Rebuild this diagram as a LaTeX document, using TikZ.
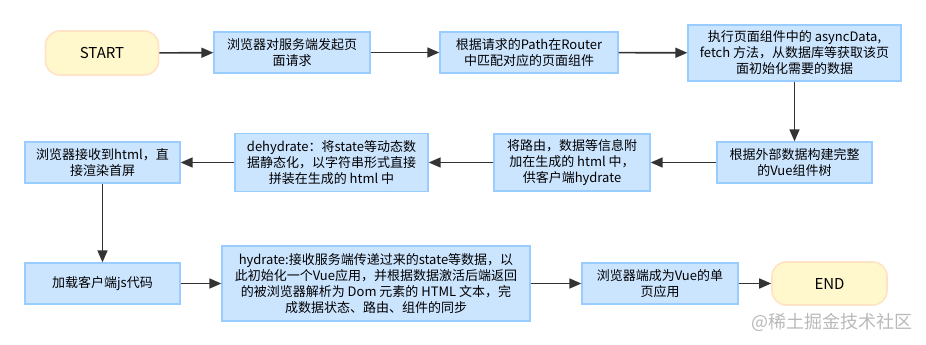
\documentclass[tikz,border=0pt]{standalone}
\usepackage{fontspec}
\setmainfont{Noto Sans CJK SC}
\usetikzlibrary{arrows.meta}

\definecolor{boxfill}{HTML}{CCE5FF}
\definecolor{boxline}{HTML}{99CCFF}
\definecolor{termfill}{HTML}{FFF8CC}
\definecolor{termline}{HTML}{FFE3C6}
\definecolor{arrowgray}{HTML}{333333}

\tikzset{
  proc/.style={draw=boxline, fill=boxfill, line width=1.3pt, align=center, inner sep=2pt,
    font=\fontsize{13}{16}\selectfont},
  term/.style={draw=termline, fill=termfill, line width=1.6pt, rounded corners=14pt,
    font=\fontsize{15}{18}\selectfont},
  flow/.style={draw=arrowgray, line width=1.6pt, -{Triangle[length=12pt,width=10pt]}},
}

\begin{document}
\begin{tikzpicture}[x=1pt,y=-1pt]
\useasboundingbox (0,0) rectangle (926,345);
% first row
\node[term, minimum width=113pt, minimum height=44pt] (start) at (102,53) {START};
\node[proc, minimum width=156pt, minimum height=41pt] (req) at (292,52.5) {浏览器对服务端发起页\\面请求};
\node[proc, minimum width=178pt, minimum height=41pt] (route) at (529,52.5) {根据请求的Path在Router\\中匹配对应的页面组件};
\node[proc, minimum width=213pt, minimum height=56pt] (fetch) at (794.5,53) {执行页面组件中的 asyncData,\\fetch 方法，从数据库等获取该页\\面初始化需要的数据};
% second row
\node[proc, minimum width=155pt, minimum height=41pt] (tree) at (794.5,162.5) {根据外部数据构建完整\\的Vue组件树};
\node[proc, minimum width=156pt, minimum height=57pt] (attach) at (572,162.5) {将路由，数据等信息附\\加在生成的 html 中，\\供客户端hydrate};
\node[proc, minimum width=193pt, minimum height=58pt] (dehyd) at (331.5,162.5) {dehydrate：将state等动态数\\据静态化，以字符串形式直接\\拼装在生成的 html 中};
\node[proc, minimum width=155pt, minimum height=41pt] (render) at (102.5,162.5) {浏览器接收到html，直\\接渲染首屏};
% third row
\node[proc, minimum width=155pt, minimum height=41pt] (loadjs) at (102.5,283.5) {加载客户端js代码};
\node[proc, minimum width=308pt, minimum height=75pt] (hydr) at (376,283.5) {hydrate:接收服务端传递过来的state等数据，以\\此初始化一个Vue应用，并根据数据激活后端返回\\的被浏览器解析为 Dom 元素的 HTML 文本，完\\成数据状态、路由、组件的同步};
\node[proc, minimum width=156pt, minimum height=41pt] (spa) at (660,283.5) {浏览器端成为Vue的单\\页应用};
\node[term, minimum width=115pt, minimum height=43pt] (end) at (829.5,283.5) {END};
\node[text=gray!55, font=\fontsize{18}{20}\selectfont] (mark) at (832,322) {@稀土掘金技术社区};

\draw[flow] (start) -- (req);
\draw[flow] (req) -- (route);
\draw[flow] (route) -- (fetch);
\draw[flow] (fetch) -- (tree);
\draw[flow] (tree) -- (attach);
\draw[flow] (attach) -- (dehyd);
\draw[flow] (dehyd) -- (render);
\draw[flow] (render) -- (loadjs);
\draw[flow] (loadjs) -- (hydr);
\draw[flow] (hydr) -- (spa);
\draw[flow] (spa) -- (end);
\end{tikzpicture}
\end{document}
